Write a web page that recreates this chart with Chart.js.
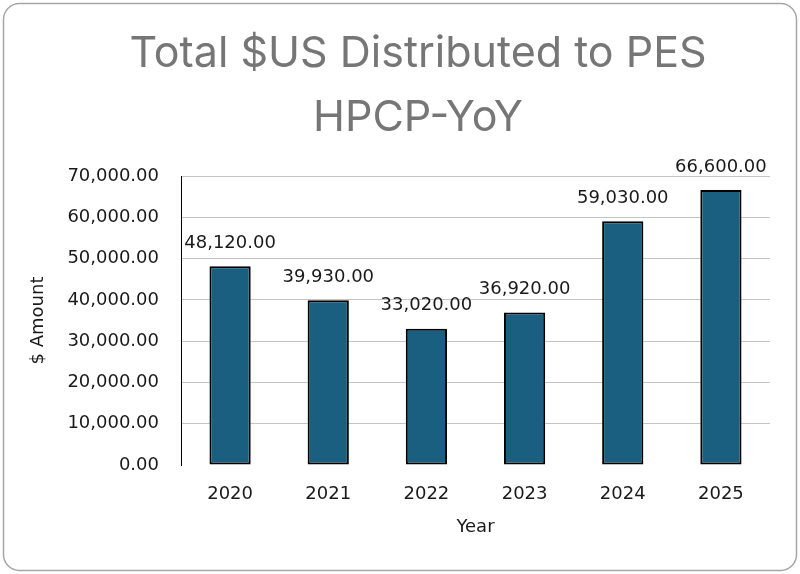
<!DOCTYPE html>
<html>
<head>
<meta charset="utf-8">
<script src="https://cdn.jsdelivr.net/npm/chart.js@4.4.1/dist/chart.umd.min.js"></script>
<style>
  html, body { margin: 0; padding: 0; background: #ffffff; }
  #wrap { width: 800px; height: 574px; }
</style>
</head>
<body>
<div id="wrap"><canvas id="c" width="800" height="574"></canvas></div>
<script>
const years = ["2020", "2021", "2022", "2023", "2024", "2025"];
const amounts = [48120, 39930, 33020, 36920, 59030, 66600];
const chartTitle = ["Total $US Distributed to PES", "HPCP-YoY"];
const yTitle = "$ Amount";
const xTitle = "Year";

const fmt = v => v.toLocaleString('en-US', { minimumFractionDigits: 2, maximumFractionDigits: 2 });

const frame = {
  id: 'frame',
  beforeDraw(chart) {
    const ctx = chart.ctx;
    ctx.save();
    ctx.fillStyle = '#ffffff';
    ctx.fillRect(0, 0, chart.width, chart.height);
    ctx.beginPath();
    ctx.roundRect(3.5, 3.5, 793, 567, 16);
    ctx.strokeStyle = '#a6a6a6';
    ctx.lineWidth = 1.5;
    ctx.stroke();
    ctx.restore();
  }
};

const labelsPlugin = {
  id: 'vals',
  afterDatasetsDraw(chart) {
    const ctx = chart.ctx;
    const meta = chart.getDatasetMeta(0);
    ctx.save();
    ctx.font = '18px "DejaVu Sans"';
    ctx.fillStyle = '#1a1a1a';
    ctx.textAlign = 'center';
    ctx.textBaseline = 'middle';
    meta.data.forEach((bar, i) => {
      ctx.fillText(fmt(amounts[i]), bar.x, bar.y - 23);
    });
    ctx.restore();
  }
};

new Chart(document.getElementById('c'), {
  type: 'bar',
  data: {
    labels: years,
    datasets: [{
      data: amounts,
      backgroundColor: '#1a5f80',
      borderColor: '#000000',
      borderWidth: 2,
      borderSkipped: false,
      categoryPercentage: 1,
      barPercentage: 0.42
    }]
  },
  options: {
    responsive: false,
    animation: false,
    devicePixelRatio: 1,
    layout: { padding: { top: 10, left: 66, right: 30, bottom: 36 } },
    plugins: {
      legend: { display: false },
      tooltip: { enabled: false },
      title: {
        display: true,
        text: chartTitle,
        color: '#767676',
        font: { family: 'Inter', size: 43, weight: 'normal', lineHeight: 64 / 43 },
        padding: { top: 12, bottom: 26 }
      }
    },
    scales: {
      x: {
        afterFit(scale) { scale.height = 73; },
        grid: { display: false, drawTicks: false },
        border: { display: false },
        ticks: {
          color: '#1a1a1a',
          padding: 19,
          font: { family: 'DejaVu Sans', size: 18, lineHeight: 1.2 }
        },
        title: {
          display: true,
          text: xTitle,
          color: '#1a1a1a',
          padding: { top: 12, bottom: 0 },
          font: { family: 'DejaVu Sans', size: 18, lineHeight: 1.2 }
        }
      },
      y: {
        min: 0,
        max: 70000,
        afterFit(scale) { scale.width = 115; },
        grid: {
          drawTicks: false,
          color: ctx => (ctx.tick && ctx.tick.value === 0) ? 'rgba(0,0,0,0)' : '#c4c4c4',
          lineWidth: 1
        },
        border: { display: true, color: '#000000', width: 1 },
        ticks: {
          stepSize: 10000,
          color: '#1a1a1a',
          padding: 22,
          font: { family: 'DejaVu Sans', size: 18 },
          callback: v => fmt(v)
        },
        title: {
          display: true,
          text: yTitle,
          color: '#1a1a1a',
          padding: { top: -38, bottom: 0 },
          font: { family: 'DejaVu Sans', size: 18, lineHeight: 1.2 }
        }
      }
    }
  },
  plugins: [frame, labelsPlugin]
});
</script>
</body>
</html>
